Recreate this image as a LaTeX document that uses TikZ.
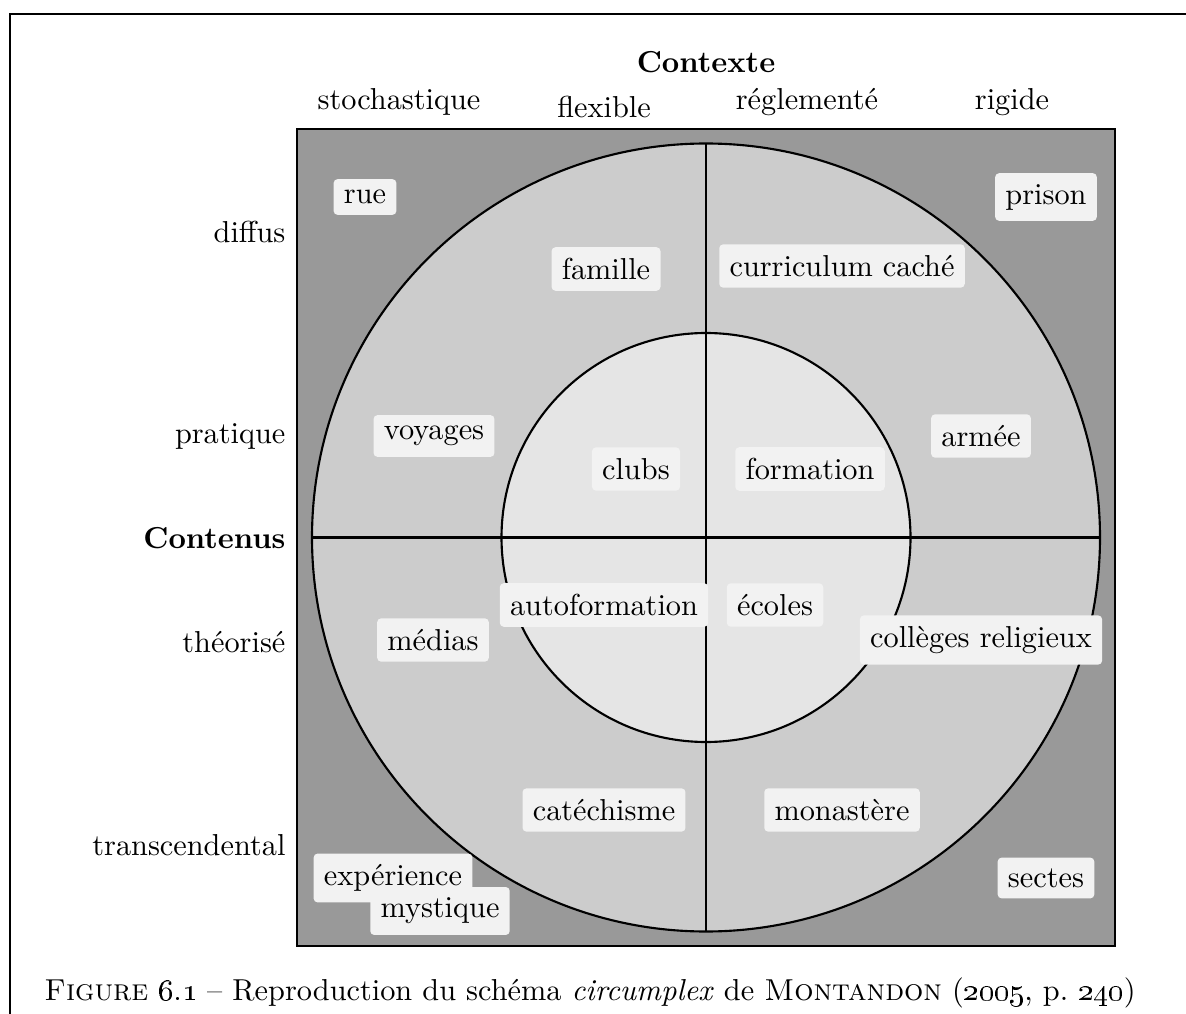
\documentclass[tikz,border=0pt]{standalone}
\usepackage{xcolor}
\definecolor{fonce}{gray}{0.6}
\definecolor{moyen}{gray}{0.8}
\definecolor{clair}{gray}{0.9}
\definecolor{etiq}{gray}{0.95}

\begin{document}
\begin{tikzpicture}[x=0.33pt, y=-0.33pt,
  lieu/.style={fill=etiq, rounded corners=1.3pt, inner xsep=3.4pt, inner ysep=3.6pt},
  haut/.style={anchor=base},
  gauche/.style={anchor=base east, inner sep=0pt}]
\useasboundingbox (0,0) rectangle (1186,1014);
% cadre de page
\draw[line width=0.4pt] (10,1014) -- (10,14) -- (1186,14);
% carre et cercles
\draw[fill=fonce, line width=0.75pt] (297,129) rectangle (1115,946);
\draw[fill=moyen, line width=0.7pt] (706,537.5) circle [radius=394];
\draw[fill=clair, line width=0.7pt] (706,537.5) circle [radius=204.5];
\draw[line width=0.7pt] (706,143.5) -- (706,931.5);
\draw[line width=0.7pt] (312,537.5) -- (1100,537.5);

% axe du contexte
\node[haut] (contexte) at (706,73) {\textbf{Contexte}};
\node[haut] (stoch) at (399,110) {stochastique};
\node[haut] (flex) at (604,118) {flexible};
\node[haut] (regl) at (807,110) {réglementé};
\node[haut] (rigide) at (1012,110) {rigide};

% axe des contenus
\node[gauche] (diffus) at (286,243) {diffus};
\node[gauche] (pratique) at (286,443) {pratique};
\node[gauche] (contenus) at (286,548) {\textbf{Contenus}};
\node[gauche] (theorise) at (286,652) {théorisé};
\node[gauche] (transc) at (286,855) {transcendental};

% lieux
\node[lieu] (rue) at (365,197) {rue};
\node[lieu] (prison) at (1046,197) {prison};
\node[lieu] (famille) at (606,269) {famille};
\node[lieu] (curriculum) at (842,266) {curriculum caché};
\node[lieu] (voyages) at (434,436) {voyages};
\node[lieu] (armee) at (981,436) {armée};
\node[lieu] (clubs) at (636,469) {clubs};
\node[lieu] (formation) at (810,469) {formation};
\node[lieu] (autoformation) at (604,605) {autoformation};
\node[lieu] (ecoles) at (775,605) {écoles};
\node[lieu] (medias) at (433,640) {médias};
\node[lieu] (colleges) at (981,640) {collèges religieux};
\node[lieu] (catechisme) at (604,810) {catéchisme};
\node[lieu] (monastere) at (842,810) {monastère};
\node[lieu] (sectes) at (1046,878) {sectes};
\node[lieu] (experience) at (393,878) {expérience};
\node[lieu] (mystique) at (440,911) {mystique};

% legende
\node[haut] (legende) at (590,1000) {\textsc{Figure} \oldstylenums{6.1} -- Reproduction du schéma \textit{circumplex} de \textsc{Montandon} (\oldstylenums{2005}, p.~\oldstylenums{240})};
\end{tikzpicture}
\end{document}
